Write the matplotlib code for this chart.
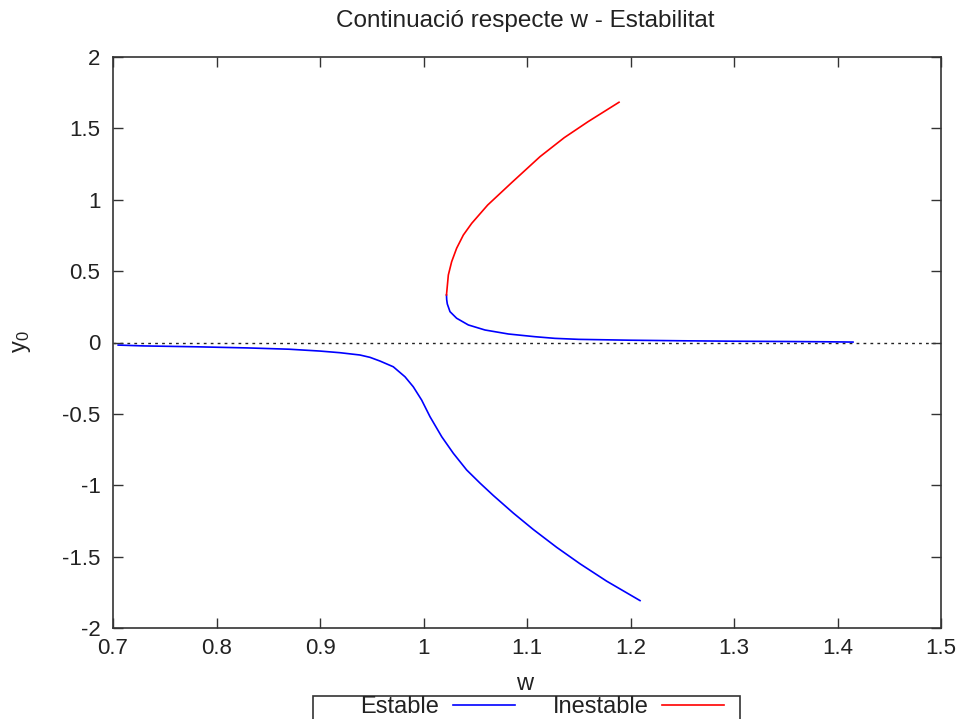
import matplotlib
matplotlib.use("Agg")
import matplotlib.pyplot as plt
from matplotlib.lines import Line2D
from matplotlib.patches import Rectangle

plt.rcParams['font.family'] = ['Liberation Sans', 'DejaVu Sans']

# Lower stable branch
low_w = [0.705, 0.73, 0.78, 0.83, 0.87, 0.90, 0.9193, 0.9386, 0.9483, 0.958,
         0.9708, 0.9821, 0.9901, 0.9982, 1.0063, 1.0176, 1.0288, 1.0417, 1.0546,
         1.0675, 1.0868, 1.1061, 1.1287, 1.1512, 1.177, 1.2092]
low_y = [-0.018, -0.024, -0.030, -0.038, -0.047, -0.060, -0.0715, -0.0876, -0.104,
         -0.130, -0.170, -0.240, -0.310, -0.403, -0.520, -0.660, -0.776, -0.893,
         -0.985, -1.072, -1.195, -1.310, -1.435, -1.550, -1.672, -1.808]

# Upper stable branch (from fold to the right)
up_st_w = [1.0222, 1.0224, 1.0230, 1.0256, 1.032, 1.0433, 1.0594, 1.082, 1.1077,
           1.127, 1.15, 1.20, 1.25, 1.30, 1.35, 1.39, 1.415]
up_st_y = [0.333, 0.300, 0.270, 0.216, 0.170, 0.123, 0.0876, 0.0596, 0.0406,
           0.029, 0.022, 0.016, 0.012, 0.009, 0.007, 0.005, 0.003]

# Unstable branch (from fold upward)
unst_w = [1.0222, 1.024, 1.0272, 1.032, 1.0385, 1.0466, 1.062, 1.0855, 1.1126,
          1.1360, 1.1590, 1.1889]
unst_y = [0.333, 0.473, 0.566, 0.660, 0.753, 0.835, 0.963, 1.122, 1.302,
          1.435, 1.547, 1.683]

x_ticks = [0.7, 0.8, 0.9, 1.0, 1.1, 1.2, 1.3, 1.4, 1.5]
x_tick_labels = ["0.7", "0.8", "0.9", "1", "1.1", "1.2", "1.3", "1.4", "1.5"]
y_ticks = [-2, -1.5, -1, -0.5, 0, 0.5, 1, 1.5, 2]
y_tick_labels = ["-2", "-1.5", "-1", "-0.5", "0", "0.5", "1", "1.5", "2"]

W, H = 964, 719
fig = plt.figure(figsize=(W / 100, H / 100), dpi=100)
ax = fig.add_axes([113 / W, 1 - 628 / H, (941 - 113) / W, (628 - 57) / H])

blue = '#0000ff'
red = '#ff0000'
ax.axhline(0, color='#222222', lw=1.0, linestyle=(0, (2, 3)), zorder=1)
ax.plot(low_w, low_y, color=blue, lw=1.2, zorder=3, solid_joinstyle='round')
ax.plot(up_st_w, up_st_y, color=blue, lw=1.2, zorder=3, solid_joinstyle='round')
ax.plot(unst_w, unst_y, color=red, lw=1.2, zorder=3, solid_joinstyle='round')

ax.set_xlim(0.7, 1.5)
ax.set_ylim(-2, 2)
ax.set_xticks(x_ticks)
ax.set_xticklabels(x_tick_labels)
ax.set_yticks(y_ticks)
ax.set_yticklabels(y_tick_labels)
ax.tick_params(direction='in', top=True, right=True, length=7, width=1,
               color='#333333', labelsize=16, labelcolor='#222222')
ax.tick_params(axis='x', pad=7)
ax.tick_params(axis='y', pad=9)
for s in ax.spines.values():
    s.set_color('#333333')
    s.set_linewidth(1.2)

fig.text(525 / W, 1 - 21 / H, "Continuació respecte w - Estabilitat",
         ha='center', va='center', fontsize=17.5, color='#222222')
fig.text(525 / W, 1 - 684 / H, "w", ha='center', va='center', fontsize=17,
         color='#222222')
fig.text(22 / W, 1 - 342 / H, r"y$\mathregular{_0}$", ha='center', va='center',
         rotation=90, fontsize=17, color='#222222')

handles = [Line2D([], [], color=blue, lw=1.2), Line2D([], [], color=red, lw=1.2)]
fig.legend(handles, ["Estable", "Inestable"], ncol=2, markerfirst=False,
           loc='center', bbox_to_anchor=(542 / W, 1 - 707 / H), frameon=False,
           fontsize=17, handlelength=2.6, handletextpad=0.6, columnspacing=1.6,
           borderpad=0, labelcolor='#222222')
fig.patches.append(Rectangle((313 / W, -0.05), (740 - 313) / W, (719 - 696) / H + 0.05,
                             transform=fig.transFigure, fill=False,
                             edgecolor='#333333', lw=1.2, clip_on=False))

fig.savefig("out.png", dpi=100)
